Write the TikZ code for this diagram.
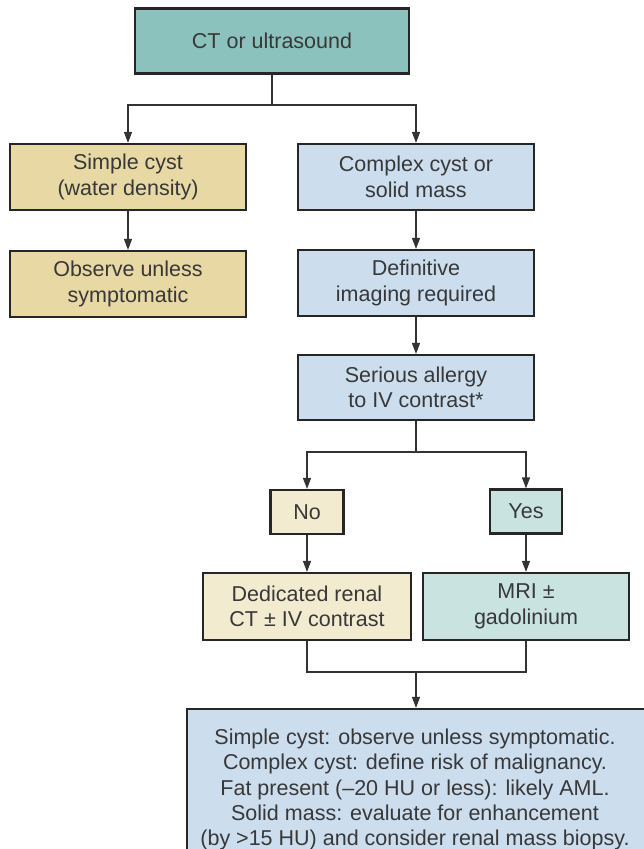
\documentclass[tikz,border=0pt]{standalone}
\usepackage{fontspec}
\setmainfont{Liberation Sans}
\usetikzlibrary{arrows.meta}
\definecolor{tealfill}{HTML}{8CC2BE}
\definecolor{tanfill}{HTML}{E7D8A4}
\definecolor{bluefill}{HTML}{CCDDEE}
\definecolor{creamfill}{HTML}{F2EBCF}
\definecolor{palefill}{HTML}{C9E3E1}
\definecolor{txt}{HTML}{383838}
\definecolor{boxline}{HTML}{262626}
\definecolor{lineclr}{HTML}{333333}
\begin{document}
\begin{tikzpicture}[x=1pt,y=-1pt,
  box/.style={draw=boxline, line width=2.2pt, align=center, text=txt, inner sep=0pt,
    font=\fontsize{21.5}{25.5}\selectfont},
  conn/.style={draw=lineclr, line width=1.3pt, -{Triangle[length=11pt,width=8pt]}},
  plainline/.style={draw=lineclr, line width=1.3pt}]
\useasboundingbox[fill=white] (0,0) rectangle (644,849);

\node[box, fill=tealfill, minimum width=274pt, minimum height=65pt] (ct) at (272,41) {CT or ultrasound};
\node[box, fill=tanfill, minimum width=236pt, minimum height=66pt] (simple) at (128,177) {Simple cyst\\(water density)};
\node[box, fill=bluefill, minimum width=236pt, minimum height=66pt] (complex) at (416,177) {Complex cyst or\\solid mass};
\node[box, fill=tanfill, minimum width=236pt, minimum height=66pt] (observe) at (128,284) {Observe unless\\symptomatic};
\node[box, fill=bluefill, minimum width=236pt, minimum height=66pt] (definitive) at (416,283) {Definitive\\imaging required};
\node[box, fill=bluefill, minimum width=236pt, minimum height=65pt] (serious) at (416,387.5) {Serious allergy\\to IV contrast*};
\node[box, fill=creamfill, minimum width=73pt, minimum height=44pt] (no) at (307,512) {No};
\node[box, fill=palefill, minimum width=72pt, minimum height=44pt] (yes) at (526,511.5) {Yes};
\node[box, fill=creamfill, minimum width=208pt, minimum height=67pt] (ded) at (307,606.5) {Dedicated renal\\CT \textpm{} IV contrast};
\node[box, fill=palefill, minimum width=206pt, minimum height=67pt] (mri) at (526,606.5) {MRI \textpm\\gadolinium};
\node[box, fill=bluefill, minimum width=480pt, minimum height=170pt] (bottom) at (427,794) {};
\node[align=center, text=txt, inner sep=0pt, font=\fontsize{21.5}{25.2}\selectfont] (bottomtext) at (415,789.5)
  {Simple cyst: observe unless symptomatic.\\Complex cyst: define risk of malignancy.\\Fat present (–20 HU or less): likely AML.\\Solid mass: evaluate for enhancement\\(by >15 HU) and consider renal mass biopsy.};

\coordinate (j1) at (272,105);
\draw[plainline] (ct.south) -- (j1);
\draw[conn] (j1) -| (simple.north);
\draw[conn] (j1) -| (complex.north);
\draw[conn] (simple) -- (observe);
\draw[conn] (complex) -- (definitive);
\draw[conn] (definitive) -- (serious);

\coordinate (j2) at (416,452);
\draw[plainline] (serious.south) -- (j2);
\draw[conn] (j2) -| (no.north);
\draw[conn] (j2) -| (yes.north);
\draw[conn] (no) -- (ded);
\draw[conn] (yes) -- (mri);

\coordinate (jd) at (307,672);
\coordinate (jm) at (526,672);
\coordinate (j3) at (416,672);
\draw[plainline] (ded.south) -- (jd) -- (jm) -- (mri.south);
\draw[conn] (j3) -- (j3 |- bottom.north);
\end{tikzpicture}
\end{document}
